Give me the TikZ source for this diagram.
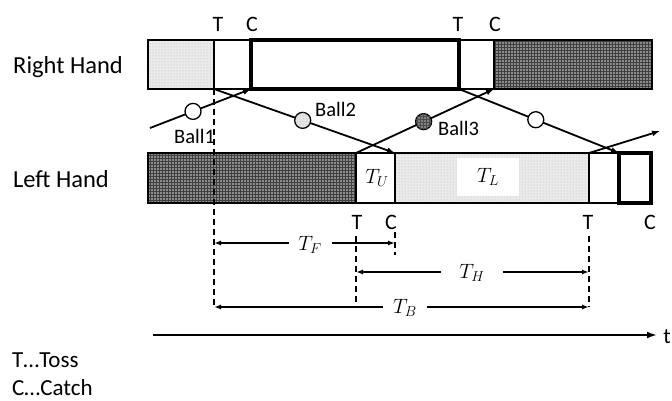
\documentclass[tikz,border=0pt]{standalone}
\usepackage{fontspec}
\setmainfont{Carlito}
\usetikzlibrary{arrows.meta,patterns,calc}
\begin{document}
\begin{tikzpicture}[x=1pt,y=-1pt,
  handtxt/.style={font=\fontsize{24.5}{28}\selectfont, inner sep=0pt, anchor=base west},
  tctxt/.style={font=\fontsize{22}{26}\selectfont, inner sep=0pt, anchor=base},
  balltxt/.style={font=\fontsize{20.5}{24}\selectfont, inner sep=0pt, anchor=base west},
  notetxt/.style={font=\fontsize{23}{27}\selectfont, inner sep=0pt, anchor=base west},
  mathtxt/.style={font=\fontsize{22}{26}\selectfont, inner sep=0pt, fill=white, minimum height=32pt},
  seg/.style={draw=black, line width=1.2pt},
  hold/.style={draw=black, line width=3.6pt},
  light/.style={fill=black!8, postaction={pattern=dots, pattern color=black!30}},
  dark/.style={fill=black!45, postaction={pattern=grid, pattern color=black!75}},
  flight/.style={line width=1.8pt, -{Latex[length=8pt,width=6pt]}},
  ball/.style={circle, draw, line width=1.3pt, minimum size=16pt, inner sep=0pt},
  guide/.style={line width=1.8pt, dash pattern=on 6pt off 4pt},
  dim/.style={line width=1.5pt, {Latex[length=7pt,width=5pt]}-{Latex[length=7pt,width=5pt]}},
  axis/.style={line width=2pt, -{Latex[length=10pt,width=7pt]}}
]
\useasboundingbox (0,0) rectangle (672,401);

% right hand timeline
\fill[light] (148,40) rectangle (214,89);
\fill[dark] (494,40) rectangle (652,89);
\draw[seg] (148,40) rectangle (652,89);
\draw[seg] (214,40) -- (214,89);
\draw[seg] (494,40) -- (494,89);
\draw[hold] (251,40) rectangle (459,89);

% left hand timeline
\fill[dark] (148,153) rectangle (356,203);
\fill[light] (395,153) rectangle (589,203);
\draw[seg] (148,153) rectangle (651,203);
\draw[seg] (356,153) -- (356,203);
\draw[seg] (395,153) -- (395,203);
\draw[seg] (589,153) -- (589,203);
\draw[hold] (619,153) rectangle (651,203);

% hand names
\node[handtxt] (rh) at (13,74) {Right Hand};
\node[handtxt] (lh) at (13,187) {Left Hand};

% toss and catch instants
\coordinate (rT1) at (214,89);
\coordinate (rC1) at (251,89);
\coordinate (rT2) at (459,89);
\coordinate (rC2) at (494,89);
\coordinate (lT1) at (356,153);
\coordinate (lC1) at (395,153);
\coordinate (lT2) at (589,153);
\coordinate (lC2) at (619,153);
\coordinate (in) at (150,128);
\coordinate (out) at (660,131);

\node[tctxt] (tr1) at (218,32) {T};
\node[tctxt] (cr1) at (252,32) {C};
\node[tctxt] (tr2) at (458,32) {T};
\node[tctxt] (cr2) at (495,32) {C};
\node[tctxt] (tl1) at (357,229) {T};
\node[tctxt] (cl1) at (391,229) {C};
\node[tctxt] (tl2) at (588,229) {T};
\node[tctxt] (cl2) at (650,229) {C};

% ball flights
\draw[flight] (in) -- (rC1);
\draw[flight] (rT1) -- (lC1);
\draw[flight] (lT1) -- (rC2);
\draw[flight] (rT2) -- (lC2);
\draw[flight] (lT2) -- (out);

\node[ball, fill=white] (b1) at ($(in)!0.426!(rC1)$) {};
\node[ball, fill=black!10, postaction={pattern=dots, pattern color=black!35}] (b2) at ($(rT1)!0.49!(lC1)$) {};
\node[ball, fill=black!50, postaction={pattern=grid, pattern color=black!70}] (b3) at ($(lT1)!0.49!(rC2)$) {};
\node[ball, fill=white] (b4) at ($(rT2)!0.48!(lC2)$) {};

\node[balltxt] (n1) at (174,143) {Ball1};
\node[balltxt] (n2) at (315,117) {Ball2};
\node[balltxt] (n3) at (438,136) {Ball3};

% phase labels inside the left timeline
\node[mathtxt, fill=none] (tu) at (377,178) {$T_U$};
\node[mathtxt, minimum width=62pt, minimum height=38pt] (tl) at (488,177) {$T_L$};

% guide lines
\coordinate (g1) at (214,307);
\coordinate (g2a) at (356,236);
\coordinate (g2) at (356,307);
\coordinate (g3a) at (395,232);
\coordinate (g3) at (395,255);
\coordinate (g4a) at (589,236);
\coordinate (g4) at (589,307);
\draw[guide] (rT1) -- (g1);
\draw[guide] (g2a) -- (g2);
\draw[guide] (g3a) -- (g3);
\draw[guide] (g4a) -- (g4);

% durations
\coordinate (fA) at (214,243);
\coordinate (fB) at (395,243);
\coordinate (hA) at (356,272);
\coordinate (hB) at (589,272);
\coordinate (bA) at (214,307);
\coordinate (bB) at (589,307);
\draw[dim] (fA) -- (fB);
\draw[dim] (hA) -- (hB);
\draw[dim] (bA) -- (bB);
\node[mathtxt, minimum width=43pt, minimum height=26pt] (tf) at (310,245) {$T_F$};
\node[mathtxt, minimum width=62pt, minimum height=26pt] (th) at (472,273) {$T_H$};
\node[mathtxt, minimum width=44pt, minimum height=26pt] (tb) at (405,308) {$T_B$};

% time axis
\coordinate (ax0) at (153,335);
\coordinate (ax1) at (657,335);
\draw[axis] (ax0) -- (ax1);
\node[tctxt] (t) at (667,343) {t};

% legend
\node[notetxt] (lg1) at (12,367) {T…Toss};
\node[notetxt] (lg2) at (12,395) {C…Catch};
\end{tikzpicture}
\end{document}
